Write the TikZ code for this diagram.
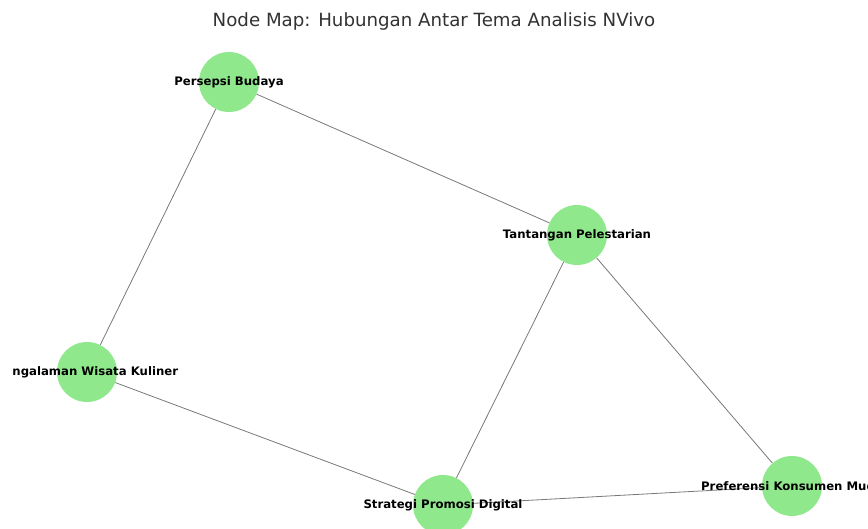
\documentclass[tikz,border=0pt]{standalone}
\usepackage{fontspec}
\setmainfont{DejaVu Sans}
\definecolor{nodegreen}{RGB}{144,232,140}
\definecolor{edgegray}{RGB}{120,120,120}
\definecolor{titlegray}{RGB}{50,50,50}
\begin{document}
\begin{tikzpicture}[x=1pt,y=-1pt,
  theme/.style={circle, fill=nodegreen, minimum size=60pt, inner sep=0pt},
  lbl/.style={font=\bfseries\fontsize{11.7}{13}\selectfont, text=black, inner sep=0pt},
  link/.style={draw=edgegray, line width=0.8pt}]
\useasboundingbox (0,0) rectangle (868,528);
\clip (0,0) rectangle (868,528);
\node[font=\fontsize{18.2}{21}\selectfont, text=titlegray] (title) at (434,21) {Node Map: Hubungan Antar Tema Analisis NVivo};
\node[theme] (p) at (229,82) {};
\node[theme] (t) at (577,235) {};
\node[theme] (g) at (87,372) {};
\node[theme] (s) at (443,505) {};
\node[theme] (k) at (792,486) {};
\draw[link] (p) -- (t);
\draw[link] (p) -- (g);
\draw[link] (g) -- (s);
\draw[link] (t) -- (s);
\draw[link] (t) -- (k);
\draw[link] (s) -- (k);
\begin{scope}
\clip (12.5,0) rectangle (868,528);
\node[lbl] (lp) at (p) {Persepsi Budaya};
\node[lbl] (lt) at (t) {Tantangan Pelestarian};
\node[lbl] (lg) at (g) {Pengalaman Wisata Kuliner};
\node[lbl] (ls) at (s) {Strategi Promosi Digital};
\node[lbl] (lk) at (k) {Preferensi Konsumen Muda};
\end{scope}
\end{tikzpicture}
\end{document}
